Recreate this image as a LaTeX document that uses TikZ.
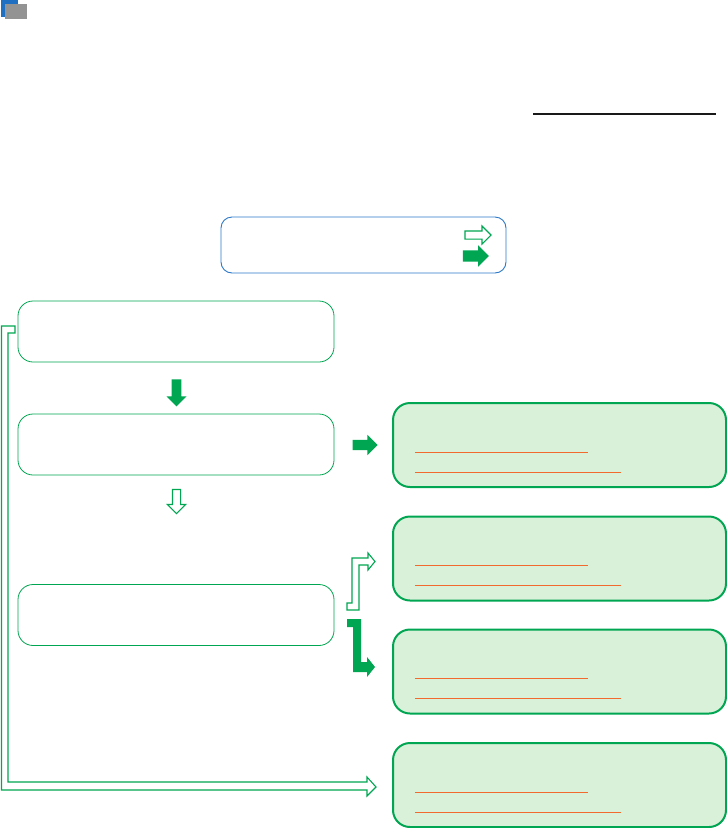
\documentclass[tikz,border=0pt]{standalone}
\usetikzlibrary{shapes.arrows,calc}

\definecolor{flowgreen}{HTML}{00A651}
\definecolor{palegreen}{HTML}{D9F0D9}
\definecolor{legendblue}{HTML}{2B78C8}
\definecolor{markorange}{HTML}{F26A2E}
\definecolor{iconblue}{HTML}{1F6FC2}
\definecolor{icongray}{HTML}{939393}

\tikzset{
  stepbox/.style={draw=flowgreen, line width=0.8pt, fill=white, rounded corners=15pt,
    minimum width=316pt, minimum height=61pt, inner sep=0pt},
  resultbox/.style={draw=flowgreen, line width=2pt, fill=palegreen, rounded corners=17pt,
    minimum width=333pt, minimum height=84pt, inner sep=0pt},
  keybox/.style={draw=legendblue, line width=0.9pt, rounded corners=11pt,
    minimum width=285pt, minimum height=56pt, inner sep=0pt},
  solidarrow/.style={single arrow, fill=flowgreen, draw=none, inner sep=0pt,
    minimum width=20pt, single arrow head extend=5pt, single arrow head indent=0pt},
  openarrow/.style={single arrow, draw=flowgreen, fill=white, line width=1.1pt, inner sep=0pt,
    minimum width=18pt, single arrow head extend=5pt, single arrow head indent=0pt},
  underline/.style={markorange, line width=0.9pt},
  openpath/.style={draw=flowgreen, fill=white, line width=1.1pt},
  solidpath/.style={fill=flowgreen}
}

\begin{document}
\begin{tikzpicture}[x=1pt, y=-1pt]
\useasboundingbox (0,0) rectangle (727,828);

% icon and rule at the top
\fill[iconblue] (1,0) rectangle (18,17);
\fill[icongray] (5,4) rectangle (27,19);
\draw[line width=1.2pt, black!90] (533,114) -- (716,114);

% legend
\node[keybox] (key) at (363.5,245) {};
\node[openarrow, minimum height=26pt, inner sep=3.5pt] (keyopen) at (476,235) {};
\node[solidarrow, minimum height=26pt, inner sep=5.5pt] (keysolid) at (473,256) {};

% steps on the left
\node[stepbox] (b1) at (176,331.5) {};
\node[stepbox] (b2) at (176,444.5) {};
\node[stepbox] (b3) at (176,615) {};

% results on the right
\node[resultbox] (r1) at (559.5,445) {};
\node[resultbox] (r2) at (559.5,558.5) {};
\node[resultbox] (r3) at (559.5,671.5) {};
\node[resultbox] (r4) at (559.5,785) {};

\foreach \r in {r1,r2,r3,r4}{
  \draw[underline] ([shift={(23,7)}]\r.west) -- ++(173,0);
  \draw[underline] ([shift={(23,27)}]\r.west) -- ++(206,0);
}

% arrows between steps
\node[solidarrow, shape border rotate=270, minimum height=27pt, inner sep=4.5pt] (down1) at (176.5,390.5) {};
\node[openarrow, shape border rotate=270, minimum height=24pt, inner sep=3.5pt] (down2) at (176.5,499.5) {};
\node[solidarrow, minimum height=25pt, inner sep=5pt] (side1) at (362.5,445) {};

% bent arrows from step 3
\draw[openpath] (347,610) -- (359,610) -- (359,565) -- (368,565) -- (368,570)
  -- (375,561.5) -- (368,553) -- (368,558) -- (352,558) -- (352,603) -- (347,603) -- cycle;
\fill[solidpath] (347,619) -- (361,619) -- (361,662) -- (367,662) -- (367,657)
  -- (375,667) -- (367,677) -- (367,672) -- (353,672) -- (353,627) -- (347,627) -- cycle;

% long return arrow from step 1
\draw[openpath] (15,326) -- (1.5,326) -- (1.5,790) -- (367,790) -- (367,796)
  -- (376,787) -- (367,777) -- (367,782) -- (8,782) -- (8,333) -- (15,333) -- cycle;
\end{tikzpicture}
\end{document}
